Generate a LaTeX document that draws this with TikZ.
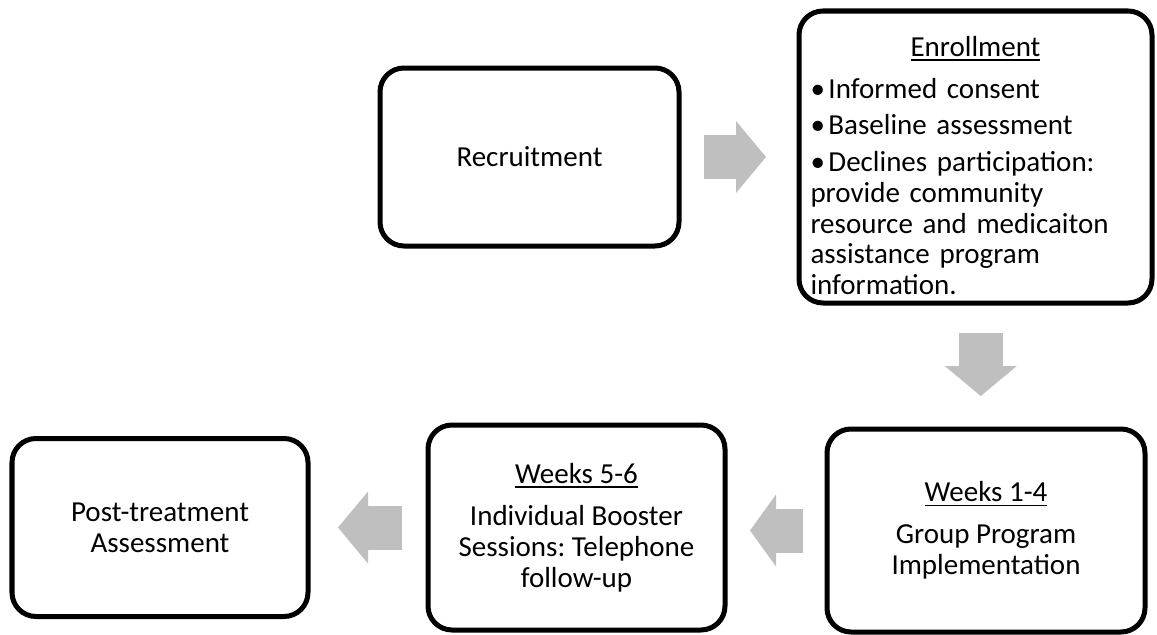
\documentclass[tikz,border=0pt]{standalone}
\usepackage{fontspec}
\setmainfont{Carlito}
\usepackage{xcolor}
\usetikzlibrary{positioning, calc, arrows.meta}
\definecolor{frame}{HTML}{000000}
\definecolor{arrowgray}{HTML}{BFBFBF}
\newcommand{\ulhead}[1]{\setbox0\hbox{#1}\rlap{\rule[-2.6pt]{\wd0}{1pt}}\box0}
\newcommand{\itembullet}{•\hspace{2pt}}
\tikzset{
  stage/.style={
    draw=frame,
    line width=0.1cm,
    rounded corners=0.48cm,
    outer sep=0pt,
    inner sep=0pt,
    align=center,
    font=\fontsize{16.5}{17.6}\selectfont\frenchspacing
  },
  flow arrow/.style={
    draw=arrowgray,
    line width=0.88cm,
    -{Triangle[length=0.6cm, width=1.44cm, line width=0pt]}
  }
}

\begin{document}
\begin{tikzpicture}
  \useasboundingbox (0,0) rectangle (23.14,-12.7);

  \node[stage, minimum width=5.98cm, minimum height=3.56cm] (recruit) at (10.59,-3.14) {Recruitment};
  \node[stage, minimum width=7.06cm, minimum height=5.84cm, text width=6.6cm, align=left, right=2.4cm of recruit] (enroll)
    {\makebox[6.6cm]{\rule{0pt}{0.75cm}\ulhead{Enrollment}}\\[0.22cm]
     \itembullet Informed consent\\[0.11cm]
     \itembullet Baseline assessment\\[0.11cm]
     \itembullet Declines participation:\\
     provide community\\
     resource and medicaiton\\
     assistance program\\
     information.};
  \node[stage, minimum width=6.36cm, minimum height=4.06cm, below=2.52cm of enroll, xshift=0.21cm] (weeksA)
    {\ulhead{Weeks 1-4}\\[0.22cm] Group Program\\ Implementation};
  \node[stage, minimum width=5.94cm, minimum height=4.1cm, left=2.04cm of weeksA, yshift=0.06cm] (weeksB)
    {\ulhead{Weeks 5-6}\\[0.22cm] Individual Booster\\ Sessions: Telephone\\ follow-up};
  \node[stage, minimum width=5.92cm, minimum height=3.56cm, left=2.4cm of weeksB] (post)
    {Post-treatment\\ Assessment};

  % block arrows between the stages
  \coordinate (down) at ($(enroll.south)!0.5!(weeksA.north)$);
  \draw[flow arrow, shorten <=0.5cm, shorten >=0.66cm] (recruit.east) -- (enroll.west);
  \draw[flow arrow, shorten <=0.6cm, shorten >=0.66cm] (down |- enroll.south) -- (down |- weeksA.north);
  \draw[flow arrow, shorten <=0.48cm, shorten >=0.5cm, -{Triangle[length=0.52cm, width=1.44cm, line width=0pt]}] (weeksA.west) -- (weeksA.west -| weeksB.east);
  \draw[flow arrow, shorten <=0.52cm, shorten >=0.6cm] (weeksB.west) -- (weeksB.west -| post.east);
\end{tikzpicture}
\end{document}
